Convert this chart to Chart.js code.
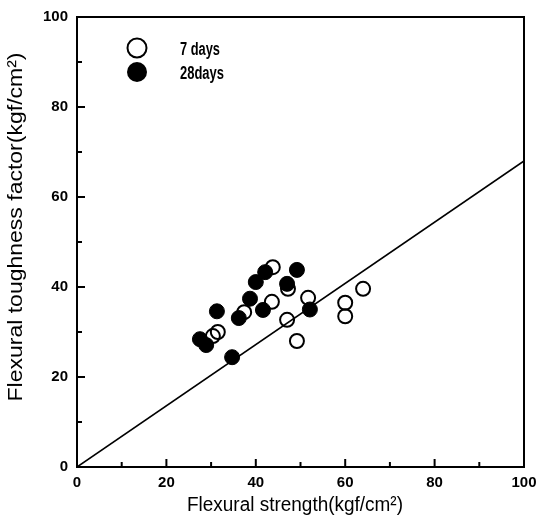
<!DOCTYPE html>
<html>
<head>
<meta charset="utf-8">
<script src="https://cdn.jsdelivr.net/npm/chart.js@4"></script>
<style>
  html, body { margin: 0; padding: 0; background: #fff; }
  #wrap { width: 539px; height: 520px; }
</style>
</head>
<body>
<div id="wrap"><canvas id="myChart" width="539" height="520"></canvas></div>
<script>
const ctx = document.getElementById("myChart").getContext("2d");

// 7 days (open circles)
let days7X = [30.4, 31.5, 37.4, 43.6, 43.8, 47.2, 47.0, 49.2, 51.7, 60.0, 60.0, 64.0];
let days7Y = [29.1, 30.0, 34.4, 36.7, 44.4, 39.6, 32.7, 28.0, 37.6, 36.5, 33.5, 39.6];
// 28 days (filled circles)
let days28X = [27.5, 28.9, 31.3, 34.7, 36.2, 38.7, 40.0, 41.6, 42.1, 47.0, 49.2, 52.1];
let days28Y = [28.4, 27.1, 34.6, 24.4, 33.1, 37.4, 41.1, 34.9, 43.3, 40.7, 43.8, 35.0];
// reference line
let lineX = [0, 100];
let lineY = [0, 68];
let tickValues = [0, 20, 40, 60, 80, 100];

const xTitle = "Flexural strength(kgf/cm²)";
const yTitle = "Flexural toughness factor(kgf/cm²)";
const font = "'Liberation Sans', Arial, sans-serif";

const pts = (xs, ys) => xs.map((x, i) => ({ x: x, y: ys[i] }));

// draw text stretched to a given width
function fitText(c, txt, cx, cy, width, rot) {
  c.save();
  c.translate(cx, cy);
  if (rot) c.rotate(rot);
  const w = c.measureText(txt).width;
  c.scale(width / w, 1);
  c.textAlign = "center";
  c.textBaseline = "middle";
  c.fillText(txt, 0, 0);
  c.restore();
}

const frame = {
  id: "frame",
  afterDraw(chart) {
    const c = chart.ctx;
    const a = chart.chartArea;
    const xs = chart.scales.x, ys = chart.scales.y;
    c.save();
    c.strokeStyle = "#000";
    c.fillStyle = "#000";
    c.lineWidth = 2;
    c.strokeRect(a.left, a.top, a.right - a.left, a.bottom - a.top);
    for (let v = 10; v < 100; v += 10) {
      const len = v % 20 === 0 ? 8 : 5;
      const px = xs.getPixelForValue(v);
      c.beginPath(); c.moveTo(px, a.bottom); c.lineTo(px, a.bottom - len); c.stroke();
      const py = ys.getPixelForValue(v);
      c.beginPath(); c.moveTo(a.left, py); c.lineTo(a.left + len, py); c.stroke();
    }
    // legend
    c.beginPath(); c.arc(137, 48, 9.5, 0, Math.PI * 2); c.stroke();
    c.beginPath(); c.arc(137, 72, 10, 0, Math.PI * 2); c.fill();
    c.font = "bold 18px " + font;
    fitText(c, "7 days", 200, 50, 40, 0);
    fitText(c, "28days", 202, 74, 44, 0);
    // axis titles
    c.font = "20px " + font;
    fitText(c, xTitle, 295, 505, 216, 0);
    c.font = "21px " + font;
    fitText(c, yTitle, 16, 227, 349, -Math.PI / 2);
    c.restore();
  }
};

let chart = new Chart(ctx, {
  type: "scatter",
  data: {
    datasets: [
      {
        label: "28days",
        data: pts(days28X, days28Y),
        backgroundColor: "#000",
        borderColor: "#000",
        borderWidth: 1,
        pointRadius: 7.5,
        order: 0,
      },
      {
        label: "7 days",
        data: pts(days7X, days7Y),
        backgroundColor: "rgba(0,0,0,0)",
        borderColor: "#000",
        borderWidth: 2,
        pointRadius: 7,
        order: 1,
      },
      {
        type: "line",
        label: "fit",
        data: pts(lineX, lineY),
        borderColor: "#000",
        borderWidth: 1.6,
        pointRadius: 0,
        fill: false,
        order: 2,
      },
    ],
  },
  options: {
    responsive: false,
    animation: false,
    events: [],
    layout: { padding: { left: 0, right: 15, top: 17, bottom: 0 } },
    plugins: { legend: { display: false }, tooltip: { enabled: false } },
    scales: {
      x: {
        type: "linear",
        min: 0,
        max: 100,
        afterBuildTicks: (s) => { s.ticks = tickValues.map((v) => ({ value: v })); },
        afterFit: (s) => { s.height = 53; s.paddingLeft = 0; s.paddingRight = 0; },
        grid: { display: false, drawTicks: false },
        border: { display: false },
        ticks: {
          color: "#000",
          padding: 7,
          font: { family: font, size: 15, weight: "bold" },
        },
      },
      y: {
        type: "linear",
        min: 0,
        max: 100,
        afterBuildTicks: (s) => { s.ticks = tickValues.map((v) => ({ value: v })); },
        afterFit: (s) => { s.width = 77; s.paddingTop = 0; s.paddingBottom = 0; },
        grid: { display: false, drawTicks: false },
        border: { display: false },
        ticks: {
          color: "#000",
          padding: 9,
          font: { family: font, size: 15, weight: "bold" },
        },
      },
    },
  },
  plugins: [frame],
});
</script>
</body>
</html>
